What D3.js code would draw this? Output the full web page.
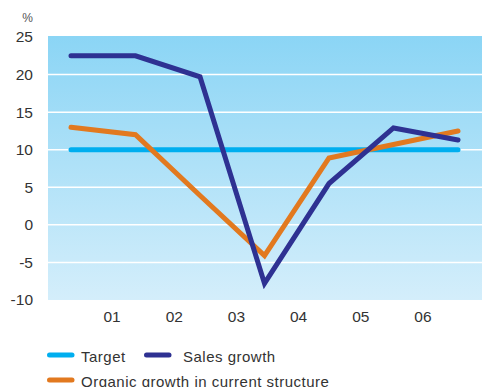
<!DOCTYPE html>
<html>
<head>
<meta charset="utf-8">
<script src="https://cdn.jsdelivr.net/npm/d3@7"></script>
<style>
  body { margin: 0; background: #fff; }
  svg { display: block; font-family: "Liberation Sans", Arial, sans-serif; }
</style>
</head>
<body>
<script>
// Data
const points = ["00", "01", "02", "03", "04", "05", "06"];
const yearLabels = ["01", "02", "03", "04", "05", "06"];
const target = [10, 10, 10, 10, 10, 10, 10];
const salesGrowth = [22.5, 22.5, 19.7, -7.8, 5.5, 12.9, 11.3];
const organicGrowth = [13.0, 12.0, 3.9, -4.1, 8.9, 10.7, 12.5];
const yTicks = [-10, -5, 0, 5, 10, 15, 20, 25];

const series = [
    {name: "Target", values: target, color: "#00aeef"},
    {name: "Organic growth in current structure", values: organicGrowth, color: "#e2791f"},
    {name: "Sales growth", values: salesGrowth, color: "#2e3192"},
];

const width = 482;
const height = 387;
const plot = {left: 48, right: 482, top: 37, bottom: 300};

const svg = d3.select("body").append("svg")
    .attr("width", width)
    .attr("height", height);

const grad = svg.append("defs").append("linearGradient")
    .attr("id", "bg")
    .attr("x1", 0).attr("y1", 0).attr("x2", 0).attr("y2", 1);
grad.append("stop").attr("offset", "0%").attr("stop-color", "#8bd5f5");
grad.append("stop").attr("offset", "100%").attr("stop-color", "#d4eefb");

const yScale = d3.scaleLinear()
    .domain([-10, 25])
    .range([plot.bottom, plot.top]);
const xScale = d3.scalePoint()
    .domain(points)
    .range([71, 458]);
const labelScale = d3.scaleBand()
    .domain(yearLabels)
    .range([81, 454]);

svg.append("rect")
    .attr("x", plot.left)
    .attr("y", plot.top - 1)
    .attr("width", plot.right - plot.left)
    .attr("height", plot.bottom - plot.top + 1)
    .attr("fill", "url(#bg)");

// gridlines
svg.append("g")
    .selectAll("line")
    .data(yTicks.filter(t => t > -10 && t < 25))
    .join("line")
    .attr("x1", plot.left)
    .attr("x2", plot.right)
    .attr("y1", d => yScale(d))
    .attr("y2", d => yScale(d))
    .attr("stroke", "#fff")
    .attr("stroke-width", 1.5);

// y labels
svg.append("g")
    .selectAll("text")
    .data(yTicks)
    .join("text")
    .attr("x", 33)
    .attr("y", d => yScale(d))
    .attr("dy", "0.35em")
    .attr("text-anchor", "end")
    .attr("font-size", 15.5)
    .attr("fill", "#333")
    .text(d => d);

svg.append("text")
    .attr("x", 33)
    .attr("y", 22)
    .attr("text-anchor", "end")
    .attr("font-size", 12)
    .attr("fill", "#555")
    .text("%");

// x labels
svg.append("g")
    .selectAll("text")
    .data(yearLabels)
    .join("text")
    .attr("x", d => labelScale(d) + labelScale.bandwidth() / 2)
    .attr("y", 317)
    .attr("dy", "0.35em")
    .attr("text-anchor", "middle")
    .attr("font-size", 15.5)
    .attr("fill", "#333")
    .text(d => d);

const line = d3.line()
    .x((d, i) => xScale(points[i]))
    .y(d => yScale(d));

svg.append("g")
    .selectAll("path")
    .data(series)
    .join("path")
    .attr("fill", "none")
    .attr("stroke", d => d.color)
    .attr("stroke-width", 5)
    .attr("stroke-linecap", "round")
    .attr("stroke-linejoin", "miter")
    .attr("d", d => line(d.values));

// legend
const legendItems = [
    {name: "Target", color: "#00aeef", x: 47, y: 355},
    {name: "Sales growth", color: "#2e3192", x: 144, y: 355},
    {name: "Organic growth in current structure", color: "#e2791f", x: 47, y: 380},
];
const lg = svg.append("g")
    .selectAll("g")
    .data(legendItems)
    .join("g")
    .attr("transform", d => `translate(${d.x},${d.y})`);
lg.append("line")
    .attr("x1", 2.5).attr("x2", 25)
    .attr("stroke", d => d.color)
    .attr("stroke-width", 5)
    .attr("stroke-linecap", "round");
lg.append("text")
    .attr("x", d => d.name === "Sales growth" ? 39 : 34)
    .attr("y", 1.5)
    .attr("dy", "0.35em")
    .attr("font-size", 15)
    .attr("letter-spacing", 0.5)
    .attr("fill", "#333")
    .text(d => d.name);
</script>
</body>
</html>
